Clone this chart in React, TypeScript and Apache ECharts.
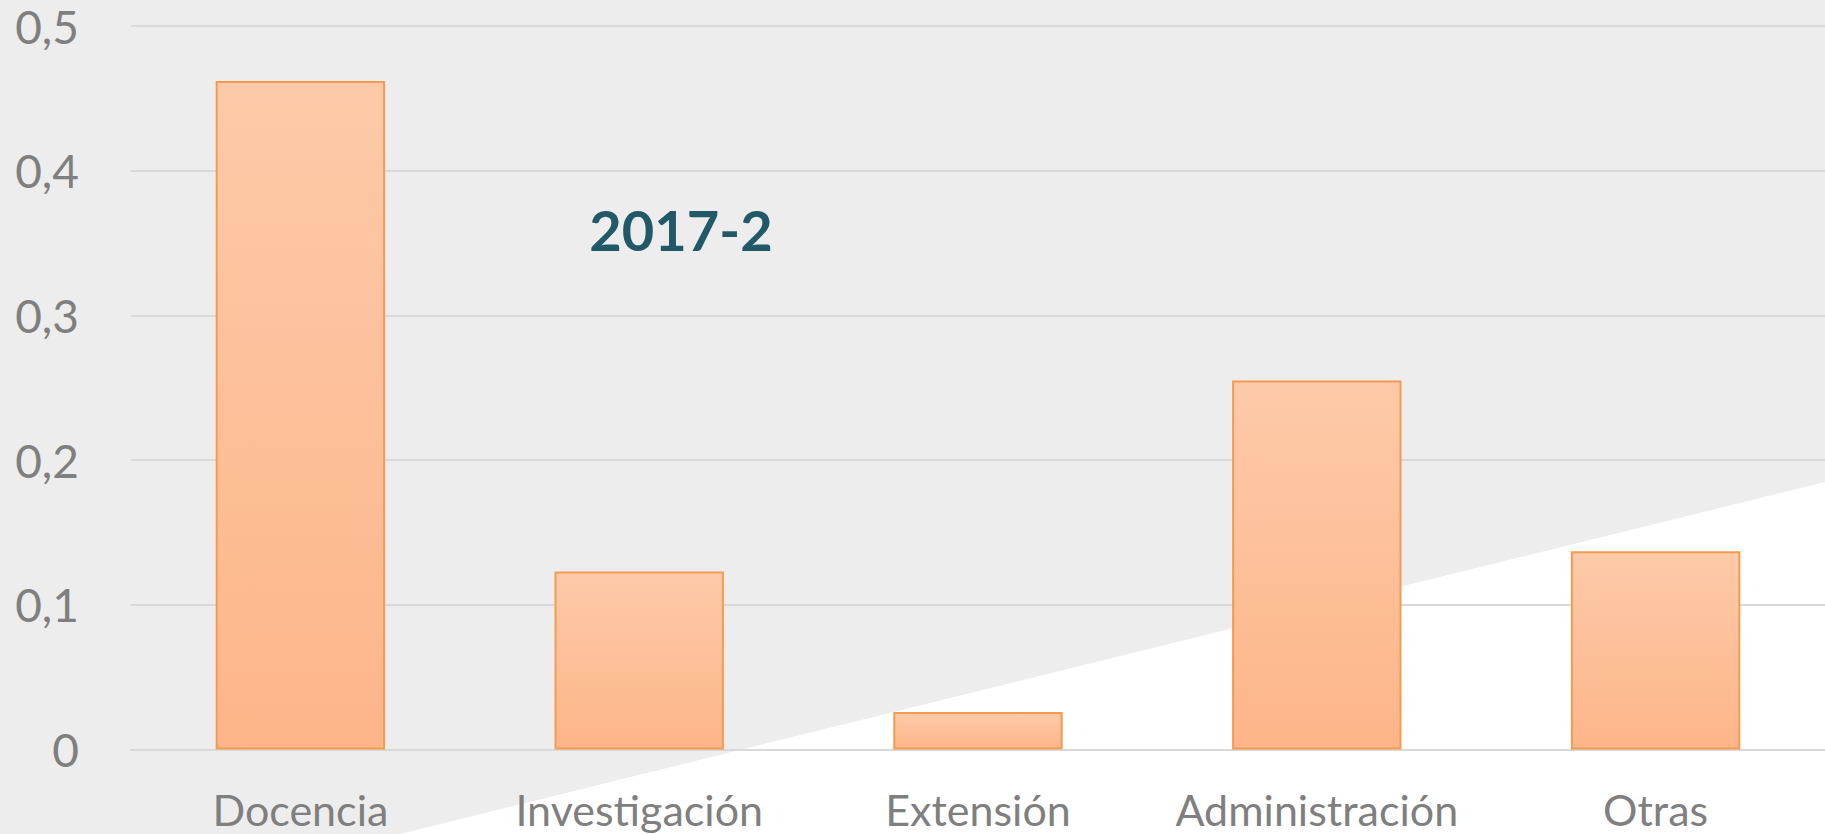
import React, { useEffect, useRef } from "react";
import * as echarts from "echarts";

const categories = ["Docencia", "Investigación", "Extensión", "Administración", "Otras"];
const values = [0.462, 0.123, 0.026, 0.255, 0.137];
const yTicks = [0, 0.1, 0.2, 0.3, 0.4, 0.5];
const titleText = "2017-2";

export default function App() {
  const ref = useRef<HTMLDivElement>(null);
  useEffect(() => {
    const chart = echarts.init(ref.current!, null, { renderer: "svg" });
    chart.setOption({
      animation: false,
      backgroundColor: "#ECEDEC",
      graphic: [
        {
          type: "polygon",
          z: -10,
          silent: true,
          shape: { points: [[400, 834], [1825, 482], [1825, 834]] },
          style: { fill: "#FFFFFF" },
        },
        {
          type: "text",
          z: 100,
          x: 681,
          y: 229,
          style: {
            text: titleText,
            fill: "#215968",
            font: "bold 56px Lato",
            textAlign: "center",
            textVerticalAlign: "middle",
          },
        },
      ],
      grid: { left: 131, right: -2, top: 26, bottom: 84.5, containLabel: false },
      xAxis: {
        type: "category",
        data: categories,
        axisLine: { show: true, lineStyle: { color: "#D9D9D9", width: 2 } },
        axisTick: { show: false },
        axisLabel: {
          interval: 0,
          fontSize: 43,
          lineHeight: 43,
          fontFamily: "Lato",
          color: "#7F7F7F",
          margin: 38,
        },
      },
      yAxis: {
        type: "value",
        min: yTicks[0],
        max: yTicks[yTicks.length - 1],
        interval: 0.1,
        axisLine: { show: false },
        axisTick: { show: false },
        splitLine: { lineStyle: { color: "#D9D9D9", width: 2 } },
        axisLabel: {
          fontSize: 46,
          lineHeight: 46,
          fontFamily: "Lato",
          color: "#7F7F7F",
          margin: 52,
          formatter: (v: number) => (Math.round(v * 10) / 10).toString().replace(".", ","),
        },
      },
      series: [
        {
          type: "bar",
          data: values,
          barWidth: "50%",
          itemStyle: {
            color: new echarts.graphic.LinearGradient(0, 0, 0, 1, [
              { offset: 0, color: "#FDCAA9" },
              { offset: 1, color: "#FDB589" },
            ]),
            borderColor: "#F59B50",
            borderWidth: 2,
          },
        },
      ],
    });
    return () => chart.dispose();
  }, []);
  return (
    <div
      ref={ref}
      style={{ position: "absolute", left: 0, top: 0, width: 1825, height: 834 }}
    />
  );
}
